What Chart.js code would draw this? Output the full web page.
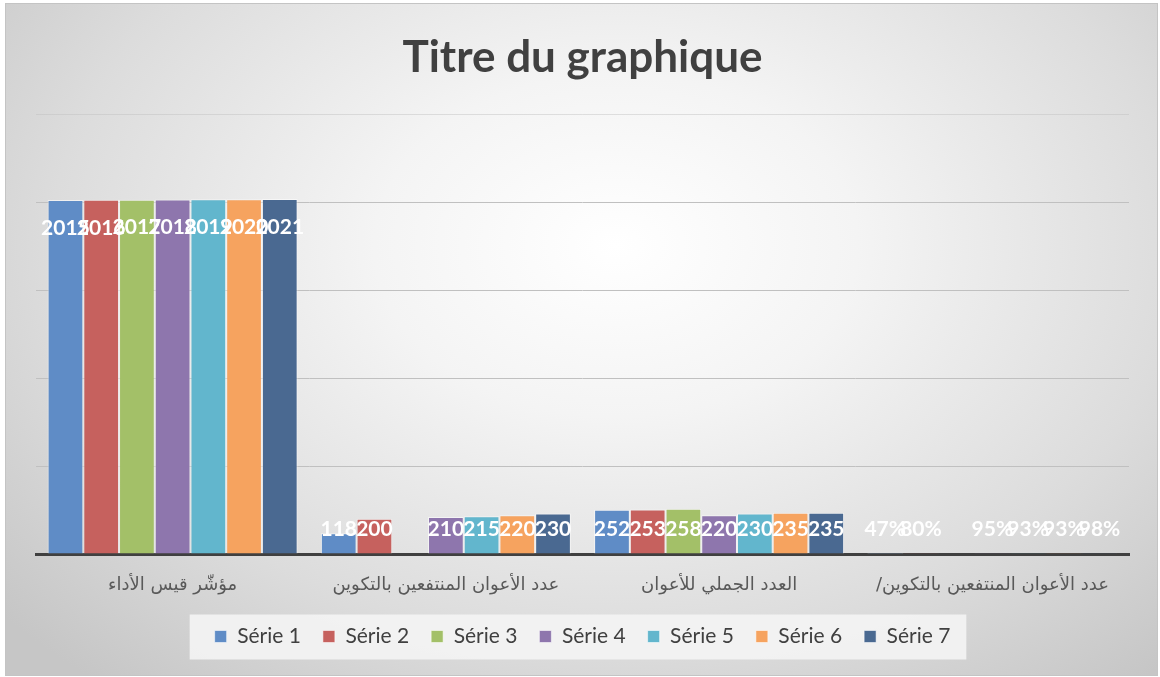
<!DOCTYPE html>
<html><head><meta charset="utf-8">
<script src="https://cdn.jsdelivr.net/npm/chart.js@4"></script>
<style>
html,body{margin:0;padding:0;background:#fff;}
#wrap{position:absolute;left:5px;top:3px;width:1151px;height:671px;border:1px solid #c4c4c4;
background:radial-gradient(ellipse 70% 85% at 53% 36%, #ffffff 0%, #f4f4f4 30%, #dcdcdc 70%, #c6c6c6 100%);}
canvas{display:block}
</style></head><body>
<div id="wrap"><canvas id="c" width="1151" height="671"></canvas></div>
<script>
const categories = ["مؤشّر قيس الأداء", "عدد الأعوان المنتفعين بالتكوين", "العدد الجملي للأعوان", "عدد الأعوان المنتفعين بالتكوين/"];
const seriesNames = ["Série 1", "Série 2", "Série 3", "Série 4", "Série 5", "Série 6", "Série 7"];
const serie1 = [2015, 118, 252, 0.47];
const serie2 = [2016, 200, 253, 0.80];
const serie3 = [2017, null, 258, null];
const serie4 = [2018, 210, 220, 0.95];
const serie5 = [2019, 215, 230, 0.93];
const serie6 = [2020, 220, 235, 0.93];
const serie7 = [2021, 230, 235, 0.98];
const yMax = 2500;
const yStep = 500;
const colors = ['#5f8cc6', '#c6615e', '#a3c068', '#8e76ad', '#62b6cd', '#f6a35f', '#4a6991'];

const allSeries = [serie1, serie2, serie3, serie4, serie5, serie6, serie7];

const labelPlugin = {
  id: 'valueLabels',
  afterDatasetsDraw(chart) {
    const ctx = chart.ctx;
    ctx.save();
    ctx.fillStyle = '#ffffff';
    ctx.font = 'bold 21px Lato, "Open Sans", sans-serif';
    ctx.textAlign = 'center';
    ctx.textBaseline = 'middle';
    chart.data.datasets.forEach((ds, di) => {
      const meta = chart.getDatasetMeta(di);
      meta.data.forEach((bar, i) => {
        const v = ds.data[i];
        if (v === null || v === undefined) return;
        const txt = v < 1 ? Math.round(v * 100) + '%' : String(v);
        const y = Math.min(bar.y + 28, bar.base - 24);
        ctx.fillText(txt, bar.x, y);
      });
    });
    ctx.restore();
  }
};

const legendBg = {
  id: 'legendBg',
  beforeDraw(chart) {
    const lg = chart.legend;
    if (!lg || !lg.legendHitBoxes || !lg.legendHitBoxes.length) return;
    const hb = lg.legendHitBoxes;
    const first = hb[0], last = hb[hb.length - 1];
    const cy = first.top + first.height / 2;
    const ctx = chart.ctx;
    ctx.save();
    ctx.fillStyle = 'rgba(244,244,244,0.9)';
    ctx.fillRect(first.left - 25, cy - 22, (last.left + last.width + 16) - (first.left - 25), 45);
    ctx.restore();
  }
};

new Chart(document.getElementById('c'), {
  type: 'bar',
  data: {
    labels: categories,
    datasets: allSeries.map((s, i) => ({
      label: seriesNames[i],
      data: s,
      backgroundColor: colors[i],
      borderColor: 'rgba(255,255,255,0.55)',
      borderWidth: 1,
      categoryPercentage: 0.915,
      barPercentage: 1.0
    }))
  },
  options: {
    responsive: false,
    animation: false,
    layout: { padding: { left: 30, right: 28, top: 0, bottom: 18 } },
    plugins: {
      title: {
        display: true,
        text: 'Titre du graphique',
        color: '#404040',
        font: { family: 'Lato, "Open Sans", sans-serif', size: 44, weight: 'bold', lineHeight: 1.2 },
        padding: { top: 27, bottom: 31 }
      },
      legend: {
        position: 'bottom',
        labels: {
          color: '#404040',
          boxWidth: 12,
          boxHeight: 12,
          padding: 22,
          font: { family: 'Lato, "Open Sans", sans-serif', size: 21 }
        }
      },
      tooltip: { enabled: false }
    },
    scales: {
      x: {
        grid: { display: false, drawTicks: false },
        border: { display: true, color: '#404040', width: 3 },
        ticks: {
          color: '#595959',
          font: { family: '"DejaVu Sans", sans-serif', size: 18 },
          padding: 21,
          maxRotation: 0,
          autoSkip: false,
          callback: function(v, i) { return '\u202B' + categories[i] + '\u202C'; }
        },
        afterFit(scale) { scale.height = 50; }
      },
      y: {
        min: 0,
        max: yMax,
        ticks: { display: false, stepSize: yStep },
        grid: {
          color: (c) => (c.tick && c.tick.value === yMax) ? 'rgba(190,190,190,0.45)' : '#c0c0c0',
          lineWidth: 1,
          drawTicks: false
        },
        border: { display: false }
      }
    }
  },
  plugins: [labelPlugin, legendBg]
});
</script>
</body></html>
